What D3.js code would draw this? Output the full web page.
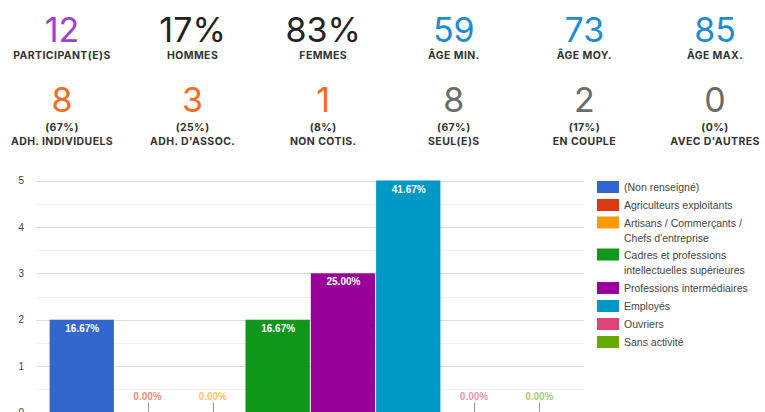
<!DOCTYPE html>
<html lang="fr">
<head>
<meta charset="UTF-8">
<script src="https://d3js.org/d3.v7.min.js"></script>
<style>
  body { margin: 0; background: #fff; }
  svg { display: block; }
</style>
</head>
<body>
<svg width="765" height="412"></svg>
<script>
  // stats en haut
  const statNumbers1 = ["12", "17%", "83%", "59", "73", "85"];
  const statLabels1 = ["PARTICIPANT(E)S", "HOMMES", "FEMMES", "ÂGE MIN.", "ÂGE MOY.", "ÂGE MAX."];
  const statColors1 = ["#a23fd1", "#222222", "#222222", "#1f8bd3", "#1f8bd3", "#1f8bd3"];
  const statNumbers2 = ["8", "3", "1", "8", "2", "0"];
  const statPcts2 = ["(67%)", "(25%)", "(8%)", "(67%)", "(17%)", "(0%)"];
  const statLabels2 = ["ADH. INDIVIDUELS", "ADH. D'ASSOC.", "NON COTIS.", "SEUL(E)S", "EN COUPLE", "AVEC D'AUTRES"];
  const statColors2 = ["#f46c22", "#f46c22", "#f46c22", "#6b6b6b", "#6b6b6b", "#6b6b6b"];

  // graphique
  const categories = ["(Non renseigné)", "Agriculteurs exploitants", "Artisans / Commerçants / Chefs d'entreprise",
    "Cadres et professions intellectuelles supérieures", "Professions intermédiaires", "Employés", "Ouvriers", "Sans activité"];
  const legendLines = [["(Non renseigné)"], ["Agriculteurs exploitants"], ["Artisans / Commerçants /", "Chefs d'entreprise"],
    ["Cadres et professions", "intellectuelles supérieures"], ["Professions intermédiaires"], ["Employés"], ["Ouvriers"], ["Sans activité"]];
  const counts = [2, 0, 0, 2, 3, 5, 0, 0];
  const pctLabels = ["16.67%", "0.00%", "0.00%", "16.67%", "25.00%", "41.67%", "0.00%", "0.00%"];
  const colors = ["#3366cc", "#dc3912", "#ff9900", "#109618", "#990099", "#0099c6", "#dd4477", "#66aa00"];
  const yTicks = [0, 1, 2, 3, 4, 5];

  const svg = d3.select("svg");
  const font = "Inter, 'DejaVu Sans', sans-serif";

  // --- bloc stats ---
  const colX = d3.scaleLinear().domain([0, 5]).range([62, 715]);

  function statText(g, data, yPos, size, weight, fill, spacing) {
    g.selectAll(null).data(data).enter().append("text")
      .attr("x", (d, i) => colX(i)).attr("y", yPos)
      .attr("text-anchor", "middle")
      .style("font-family", font).style("font-size", size).style("font-weight", weight)
      .style("letter-spacing", spacing || "0px")
      .attr("fill", fill)
      .text(d => d);
  }

  const row1 = svg.append("g");
  statText(row1, statNumbers1, 42, "34px", 400, (d, i) => statColors1[i]);
  statText(row1, statLabels1, 59, "10.5px", 700, "#333", "0.4px");

  const row2 = svg.append("g");
  statText(row2, statNumbers2, 112, "34px", 400, (d, i) => statColors2[i]);
  statText(row2, statPcts2, 131, "10.5px", 700, "#333", "0.4px");
  statText(row2, statLabels2, 145, "10.5px", 700, "#333", "0.4px");

  // --- colonnes ---
  const chartFont = "Arial, 'Liberation Sans', sans-serif";
  const y = d3.scaleLinear().domain([0, 5]).range([412.5, 180.5]);
  const x = d3.scaleBand().domain(categories).range([49.6, 572]).padding(0);

  const grid = svg.append("g");
  grid.selectAll("line.minor").data(d3.range(0.5, 5, 1)).enter().append("line")
    .attr("x1", 36).attr("x2", 584)
    .attr("y1", d => Math.round(y(d)) + 0.5).attr("y2", d => Math.round(y(d)) + 0.5)
    .attr("stroke", "#f0f0f0");
  grid.selectAll("line.major").data(yTicks).enter().append("line")
    .attr("x1", 36).attr("x2", 584)
    .attr("y1", d => Math.round(y(d)) + 0.5).attr("y2", d => Math.round(y(d)) + 0.5)
    .attr("stroke", "#dcdcdc");

  const yAxis = d3.axisLeft(y).tickValues(yTicks).tickSize(0).tickFormat(d3.format("d"));
  const ya = svg.append("g").attr("transform", "translate(24,0)").call(yAxis);
  ya.select(".domain").remove();
  ya.selectAll("text").style("font-family", chartFont).style("font-size", "10px").attr("fill", "#444").attr("x", 0);

  const bars = svg.append("g");
  bars.selectAll("rect").data(counts).enter().append("rect")
    .attr("x", (d, i) => x(categories[i]))
    .attr("y", d => y(d))
    .attr("width", x.bandwidth() - 1)
    .attr("height", d => y(0) - y(d))
    .attr("fill", (d, i) => colors[i]);

  // tirets pour les valeurs nulles
  counts.forEach((d, i) => {
    if (d !== 0) return;
    const cx = Math.round(x(categories[i]) + x.bandwidth() / 2) + 0.5;
    bars.append("line")
      .attr("x1", cx).attr("x2", cx)
      .attr("y1", y(0) - 10).attr("y2", y(0))
      .attr("stroke", "#999");
  });

  const labels = svg.append("g");
  labels.selectAll("text").data(counts).enter().append("text")
    .attr("x", (d, i) => x(categories[i]) + x.bandwidth() / 2)
    .attr("y", d => d === 0 ? y(0) - 13 : y(d) + 12)
    .attr("text-anchor", "middle")
    .style("font-family", chartFont).style("font-size", "10px").style("font-weight", 700)
    .attr("fill", (d, i) => d === 0 ? colors[i] : "#fff")
    .attr("fill-opacity", d => d === 0 ? 0.6 : 1)
    .text((d, i) => pctLabels[i]);

  // --- légende ---
  const legendY = [187, 205, 222.5, 254.5, 288, 306, 324, 342];
  const legend = svg.append("g");
  categories.forEach((c, i) => {
    const g = legend.append("g").attr("transform", `translate(597,${legendY[i]})`);
    g.append("rect").attr("x", 0).attr("y", -6).attr("width", 22).attr("height", 12).attr("fill", colors[i]);
    legendLines[i].forEach((t, j) => {
      g.append("text").attr("x", 27).attr("y", j * 15 + 4)
        .style("font-family", chartFont).style("font-size", "10.5px")
        .attr("fill", "#444")
        .text(t);
    });
  });
</script>
</body>
</html>
